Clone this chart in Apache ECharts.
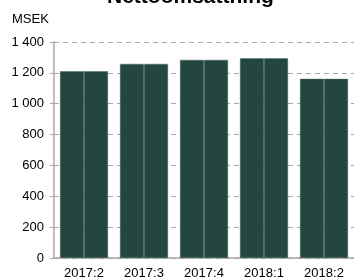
<!DOCTYPE html>
<html>
<head>
<meta charset="utf-8">
<script src="https://cdn.jsdelivr.net/npm/echarts@6/dist/echarts.min.js"></script>
<style>
  html, body { margin: 0; padding: 0; background: #fff; }
  #chart { width: 354px; height: 280px; }
</style>
</head>
<body>
<div id="chart"></div>
<script>
// kvartal och nettoomsättning (MSEK)
const categories = ['2017:2', '2017:3', '2017:4', '2018:1', '2018:2']
const netSales = [1210, 1258, 1284, 1294, 1161]
const yTicks = [0, 200, 400, 600, 800, 1000, 1200, 1400]

const fmt = (v) => String(v).replace(/\B(?=(\d{3})+(?!\d))/g, ' ')

const chart = echarts.init(document.getElementById('chart'))

const barStyle = { color: '#234641', borderColor: '#4d6c67', borderWidth: 0.5 }

chart.setOption({
  animation: false,
  textStyle: { fontFamily: 'Liberation Sans, Arial, sans-serif' },
  title: {
    text: 'Nettoomsättning',
    left: 102,
    top: -18,
    textStyle: { fontSize: 21, fontWeight: 'bold', color: '#000' },
  },
  graphic: [{
    type: 'text',
    left: 12,
    top: 13,
    style: { text: 'MSEK', fontSize: 13, fill: '#000', fontFamily: 'Liberation Sans, Arial, sans-serif' },
  }],
  grid: { left: 54, right: 0, top: 42, bottom: 21, containLabel: false },
  xAxis: {
    type: 'category',
    data: categories,
    axisLine: { lineStyle: { color: '#a6a6a6', width: 1.5 } },
    axisTick: { show: false },
    axisLabel: { color: '#000', fontSize: 13, margin: 9 },
  },
  yAxis: {
    type: 'value',
    min: yTicks[0],
    max: yTicks[yTicks.length - 1],
    interval: 200,
    axisLine: { show: true, lineStyle: { color: '#a6a6a6', width: 1.5 } },
    axisTick: { show: true, length: 4, lineStyle: { color: '#a6a6a6' } },
    axisLabel: { color: '#000', fontSize: 13, margin: 10, formatter: fmt },
    splitLine: { lineStyle: { color: '#a6a6a6', type: [5, 4] } },
  },
  series: [
    { type: 'bar', data: netSales, barCategoryGap: '20%', barGap: '0%', itemStyle: barStyle },
    { type: 'bar', data: netSales, barCategoryGap: '20%', barGap: '0%', itemStyle: barStyle },
  ],
})
</script>
</body>
</html>
